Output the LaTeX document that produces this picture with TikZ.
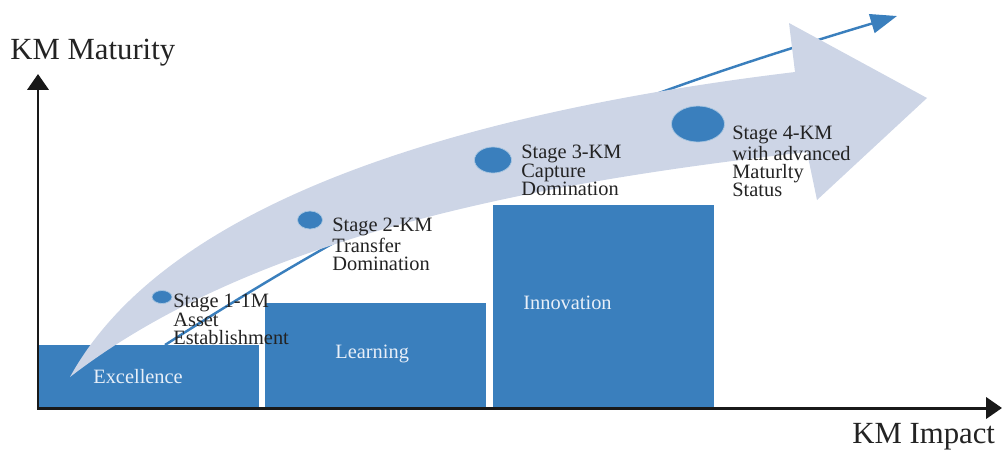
\documentclass[tikz,border=0pt]{standalone}
\usepackage{fontspec}
\setmainfont{Liberation Serif}
\usetikzlibrary{shapes.geometric,arrows.meta}

\definecolor{kmblue}{RGB}{58,127,189}
\definecolor{kmband}{RGB}{205,213,230}
\definecolor{kmtext}{RGB}{35,35,35}
\definecolor{kmlight}{RGB}{232,239,248}

\begin{document}
\begin{tikzpicture}[x=0.2mm, y=-0.2mm]
\tikzstyle{bar} = [fill=kmblue]
\tikzstyle{axis} = [line width=1.7pt, draw=black!90, <->, >={Triangle[length=9pt,width=12pt]}]
\tikzstyle{trend} = [line width=1.4pt, draw=kmblue, ->, >={Triangle[length=15pt,width=11pt]}]
\tikzstyle{dot} = [ellipse, fill=kmblue, draw=white!55!kmblue, line width=0.4pt, inner sep=0]
\tikzstyle{stage} = [anchor=north west, inner sep=0, align=left, text=kmtext, font=\fontsize{11.6}{10.4}\selectfont]
\tikzstyle{barlabel} = [anchor=base west, inner sep=0, text=kmlight, font=\fontsize{11.6}{13}\selectfont]
\tikzstyle{title} = [anchor=base west, inner sep=0, text=kmtext, font=\fontsize{17.5}{20}\selectfont]

\useasboundingbox (0,0) rectangle (1003,449);

% the three columns
\fill [bar] (38,407) rectangle (259,345);
\fill [bar] (265,407) rectangle (486,303);
\fill [bar] (493,407) rectangle (714,205);

% trend line, runs under the big arrow
\coordinate (trendstart) at (165,345);
\coordinate (trendend) at (897,16);
\draw [trend] (trendstart) .. controls (435,172) and (597,106) .. (trendend);

% big curved arrow
\fill [kmband] (70,377) .. controls (170,195) and (480,110) .. (795,72)
  -- (789,23) -- (927,98) -- (817,200) -- (807,152)
  .. controls (560,180) and (260,230) .. (70,377) -- cycle;

% stage markers
\node (dot1) [dot, minimum width=4mm, minimum height=2.6mm] at (162,297) {};
\node (dot2) [dot, minimum width=5mm, minimum height=3.6mm] at (310,220) {};
\node (dot3) [dot, minimum width=7.4mm, minimum height=5.2mm] at (493,160) {};
\node (dot4) [dot, minimum width=10.6mm, minimum height=7.2mm] at (698,124) {};

\node (stage1) [stage] at (173,294) {Stage 1-1M\\Asset\\Establishment};
\node (stage2) [stage] at (332,218) {Stage 2-KM\\Transfer\\Domination};
\node (stage3) [stage] at (521,145) {Stage 3-KM\\Capture\\Domination};
\node (stage4) [stage] at (732,126) {Stage 4-KM\\with advanced\\Maturlty\\Status};

\node (excel) [barlabel] at (93,383) {Excellence};
\node (learn) [barlabel] at (335,358) {Learning};
\node (innov) [barlabel] at (523,309) {Innovation};

% axes
\coordinate (origin) at (38,408);
\coordinate (ytip) at (38,74);
\coordinate (xtip) at (1002,408);
\draw [axis] (ytip) -- (origin) -- (xtip);

\node (maturity) [title] at (10,59) {KM Maturity};
\node (impact) [title] at (852,443) {KM Impact};
\end{tikzpicture}
\end{document}
